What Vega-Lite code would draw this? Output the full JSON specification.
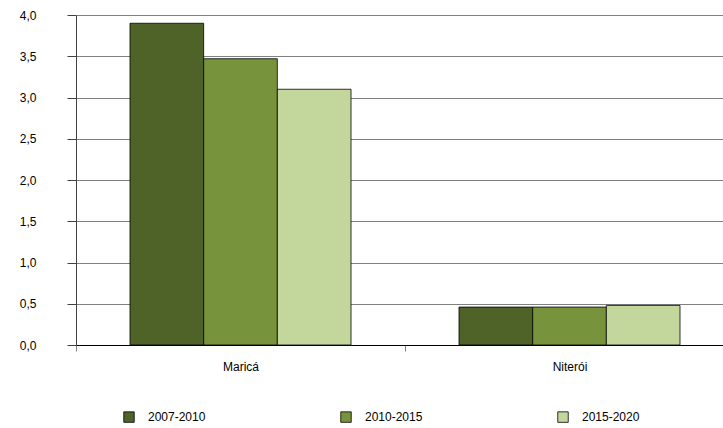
{
  "$schema": "https://vega.github.io/schema/vega-lite/v6.json",
  "autosize": "none",
  "padding": {"left": 76, "top": 15, "right": 0, "bottom": 83},
  "width": 658,
  "height": 330,
  "background": "white",
  "data": {
    "values": [
      {"municipio": "Maricá", "periodo": "2007-2010", "valor": 3.9},
      {"municipio": "Maricá", "periodo": "2010-2015", "valor": 3.47},
      {"municipio": "Maricá", "periodo": "2015-2020", "valor": 3.1},
      {"municipio": "Niterói", "periodo": "2007-2010", "valor": 0.46},
      {"municipio": "Niterói", "periodo": "2010-2015", "valor": 0.46},
      {"municipio": "Niterói", "periodo": "2015-2020", "valor": 0.48}
    ]
  },
  "mark": {"type": "bar", "stroke": "#000000", "strokeWidth": 0.8},
  "encoding": {
    "x": {
      "field": "municipio",
      "type": "nominal",
      "sort": null,
      "scale": {"paddingInner": 0, "paddingOuter": 0},
      "axis": {
        "title": null,
        "labelAngle": 0,
        "tickBand": "extent",
        "domainColor": "#000000",
        "tickColor": "#808080",
        "tickSize": 6,
        "labelPadding": 10,
        "labelFont": "Liberation Sans",
        "labelFontSize": 12,
        "labelColor": "#000000"
      }
    },
    "xOffset": {
      "field": "periodo",
      "type": "nominal",
      "scale": {"paddingInner": 0, "paddingOuter": 0.733}
    },
    "y": {
      "field": "valor",
      "type": "quantitative",
      "scale": {"domain": [0, 4], "nice": false},
      "axis": {
        "title": null,
        "values": [0, 0.5, 1, 1.5, 2, 2.5, 3, 3.5, 4],
        "labelExpr": "replace(format(datum.value, '.1f'), '.', ',')",
        "grid": true,
        "gridColor": "#808080",
        "gridWidth": 1,
        "domainColor": "#404040",
        "tickColor": "#404040",
        "tickSize": 9,
        "labelPadding": 31,
        "labelFont": "Liberation Sans",
        "labelFontSize": 12,
        "labelColor": "#000000"
      }
    },
    "color": {
      "field": "periodo",
      "type": "nominal",
      "scale": {
        "domain": ["2007-2010", "2010-2015", "2015-2020"],
        "range": ["#4F6228", "#77933C", "#C3D69B"]
      },
      "legend": {
        "title": null,
        "orient": "none",
        "legendX": 47,
        "legendY": 396,
        "direction": "horizontal",
        "columns": 3,
        "columnPadding": 133,
        "symbolType": "square",
        "symbolSize": 110,
        "symbolStrokeColor": "#000000",
        "symbolStrokeWidth": 0.8,
        "labelFont": "Liberation Sans",
        "labelFontSize": 12,
        "labelColor": "#000000",
        "labelOffset": 13
      }
    }
  },
  "config": {
    "view": {"stroke": null}
  }
}
